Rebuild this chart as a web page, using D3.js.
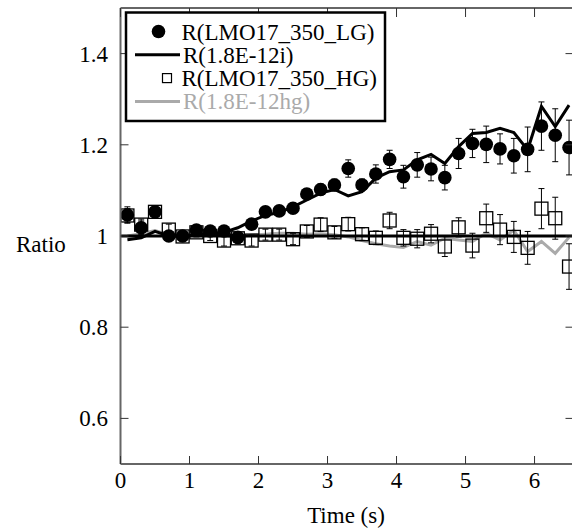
<!DOCTYPE html>
<html><head><meta charset="utf-8">
<script src="https://cdn.jsdelivr.net/npm/d3@7"></script>
<style>body{margin:0;background:#fff}svg{display:block}svg text{font-family:"Liberation Serif","Times New Roman",Times,"DejaVu Serif",serif}</style>
</head><body><svg id="c" width="572" height="529"></svg>
<script>
const times = [0.1,0.3,0.5,0.7,0.9,1.1,1.3,1.5,1.7,1.9,2.1,2.3,2.5,2.7,2.9,3.1,3.3,3.5,3.7,3.9,4.1,4.3,4.5,4.7,4.9,5.1,5.3,5.5,5.7,5.9,6.1,6.3,6.5];
const lgValues = [1.046,1.018,1.053,1.0,1.0,1.013,1.011,1.011,0.997,1.026,1.053,1.055,1.061,1.092,1.102,1.112,1.148,1.112,1.136,1.168,1.13,1.156,1.147,1.128,1.181,1.203,1.201,1.191,1.176,1.19,1.241,1.221,1.194];
const lgErrors = [0.018,0.015,0.012,0.01,0.01,0.01,0.01,0.01,0.01,0.01,0.01,0.01,0.01,0.012,0.012,0.013,0.019,0.013,0.02,0.02,0.025,0.027,0.026,0.027,0.033,0.031,0.04,0.033,0.038,0.049,0.053,0.058,0.06];
const hgValues = [1.045,1.025,1.053,1.014,0.999,1.008,1.0,0.99,0.995,0.99,1.003,1.003,0.993,1.01,1.025,1.008,1.026,1.004,0.996,1.034,0.996,0.994,1.005,0.977,1.019,0.979,1.039,1.014,0.998,0.974,1.06,1.039,0.933];
const hgErrors = [0.015,0.012,0.012,0.012,0.01,0.01,0.01,0.012,0.012,0.012,0.012,0.012,0.012,0.013,0.015,0.013,0.015,0.014,0.015,0.018,0.018,0.02,0.02,0.022,0.021,0.027,0.031,0.033,0.034,0.036,0.044,0.046,0.05];
const modelI = [0.992,0.996,1.01,1.0,0.999,1.003,1.005,1.008,1.018,1.033,1.045,1.052,1.064,1.079,1.094,1.102,1.088,1.097,1.127,1.141,1.145,1.167,1.179,1.159,1.196,1.225,1.227,1.236,1.227,1.189,1.284,1.24,1.287];
const modelHG = [1.0,1.005,1.012,1.003,1.0,1.005,1.004,1.0,0.998,1.002,1.004,1.006,1.006,1.004,1.005,1.003,0.998,0.99,0.983,0.978,0.975,0.988,0.98,0.995,0.991,0.988,1.006,0.991,1.013,0.966,0.988,0.962,0.997];
const refValue = 1.0;
const xTicks = [0,1,2,3,4,5,6];
const yTicks = [0.6,0.8,1.0,1.2,1.4];
const yTickLabels = ["0.6","0.8","1","1.2","1.4"];
const legendLabels = ["R(LMO17_350_LG)","R(1.8E-12i)","R(LMO17_350_HG)","R(1.8E-12hg)"];

const svg = d3.select("#c");
const x = d3.scaleLinear().domain([0,6.55]).range([120.5,572.5]);
const y = d3.scaleLinear().domain([0.5,1.5]).range([464,8]);
const axisCol = "#666";
const fs = 23;

svg.append("defs").append("clipPath").attr("id","clip").append("rect")
  .attr("x",x(0)).attr("y",y(1.5)).attr("width",x(6.55)-x(0)).attr("height",y(0.5)-y(1.5));
const plot = svg.append("g").attr("clip-path","url(#clip)");

const line = d3.line().x(d=>x(d[0])).y(d=>y(d[1]));
plot.append("path").datum(times.map((t,i)=>[t,modelHG[i]])).attr("d",line)
  .attr("fill","none").attr("stroke","#aaa").attr("stroke-width",3);
plot.append("line").attr("x1",x(-0.04)).attr("x2",x(6.55)).attr("y1",y(refValue)).attr("y2",y(refValue))
  .attr("stroke","#000").attr("stroke-width",3);
plot.append("path").datum(times.map((t,i)=>[t,modelI[i]])).attr("d",line)
  .attr("fill","none").attr("stroke","#000").attr("stroke-width",3);

function errBars(vals, errs){
  const g = plot.append("g").attr("stroke","#000").attr("stroke-width",1);
  times.forEach((t,i)=>{
    const cx=x(t), y1=y(vals[i]+errs[i]), y2=y(vals[i]-errs[i]);
    g.append("line").attr("x1",cx).attr("x2",cx).attr("y1",y1).attr("y2",y2);
    g.append("line").attr("x1",cx-3).attr("x2",cx+3).attr("y1",y1).attr("y2",y1);
    g.append("line").attr("x1",cx-3).attr("x2",cx+3).attr("y1",y2).attr("y2",y2);
  });
}
errBars(hgValues,hgErrors);
plot.append("g").selectAll("rect").data(times).join("rect")
  .attr("x",(t)=>x(t)-6.5).attr("y",(t,i)=>y(hgValues[i])-6.5).attr("width",13).attr("height",13)
  .attr("fill","none").attr("stroke","#000").attr("stroke-width",1.3);
errBars(lgValues,lgErrors);
plot.append("g").selectAll("circle").data(times).join("circle")
  .attr("cx",t=>x(t)).attr("cy",(t,i)=>y(lgValues[i])).attr("r",6.8).attr("fill","#000");

// axes
const ax = svg.append("g");
ax.append("line").attr("x1",x(0)).attr("x2",x(6.55)).attr("y1",y(0.5)).attr("y2",y(0.5)).attr("stroke",axisCol).attr("stroke-width",2);
ax.append("line").attr("x1",x(0)).attr("x2",x(6.55)).attr("y1",y(1.5)).attr("y2",y(1.5)).attr("stroke",axisCol).attr("stroke-width",2);
ax.append("line").attr("x1",x(0)).attr("x2",x(0)).attr("y1",y(0.5)).attr("y2",y(1.5)).attr("stroke",axisCol).attr("stroke-width",2);
xTicks.forEach(t=>{
  ax.append("line").attr("x1",x(t)).attr("x2",x(t)).attr("y1",y(0.5)).attr("y2",y(0.5)-8).attr("stroke","#333").attr("stroke-width",1);
  ax.append("line").attr("x1",x(t)).attr("x2",x(t)).attr("y1",y(1.5)).attr("y2",y(1.5)+9).attr("stroke","#333").attr("stroke-width",1);
  ax.append("text").attr("x",x(t)).attr("y",488).attr("text-anchor","middle")
    .attr("font-size",fs).text(String(t));
});
yTicks.forEach((v,i)=>{
  ax.append("line").attr("x1",x(0)).attr("x2",x(0)+8).attr("y1",y(v)).attr("y2",y(v)).attr("stroke","#333").attr("stroke-width",1);
  ax.append("line").attr("x1",x(6.55)).attr("x2",x(6.55)-7).attr("y1",y(v)).attr("y2",y(v)).attr("stroke","#333").attr("stroke-width",1);
  ax.append("text").attr("x",108).attr("y",y(v)+8).attr("text-anchor","end")
    .attr("font-size",fs).text(yTickLabels[i]);
});
svg.append("text").attr("x",346).attr("y",523).attr("text-anchor","middle")
  .attr("font-size",fs).text("Time (s)");
svg.append("text").attr("x",16).attr("y",252)
  .attr("font-size",fs).text("Ratio");

// legend
const lg = svg.append("g");
lg.append("rect").attr("x",126).attr("y",12.5).attr("width",259).attr("height",108.5)
  .attr("fill","#fff").attr("stroke","#000").attr("stroke-width",2.5);
const rows=[31.5,54.8,78.1,101.4];
lg.append("circle").attr("cx",158.5).attr("cy",rows[0]).attr("r",6.8).attr("fill","#000");
lg.append("line").attr("x1",135).attr("x2",180).attr("y1",rows[1]).attr("y2",rows[1]).attr("stroke","#000").attr("stroke-width",3);
lg.append("rect").attr("x",162.5).attr("y",rows[2]-4.5).attr("width",9).attr("height",9).attr("fill","none").attr("stroke","#000").attr("stroke-width",1.2);
lg.append("line").attr("x1",135).attr("x2",180).attr("y1",rows[3]).attr("y2",rows[3]).attr("stroke","#aaa").attr("stroke-width",3);
const cols=["#000","#000","#000","#aaa"];
legendLabels.forEach((l,i)=>{
  lg.append("text").attr("x",i%2?183:181.5).attr("y",rows[i]+8).attr("font-size",fs)
    .attr("fill",cols[i]).text(l);
});
</script></body></html>
